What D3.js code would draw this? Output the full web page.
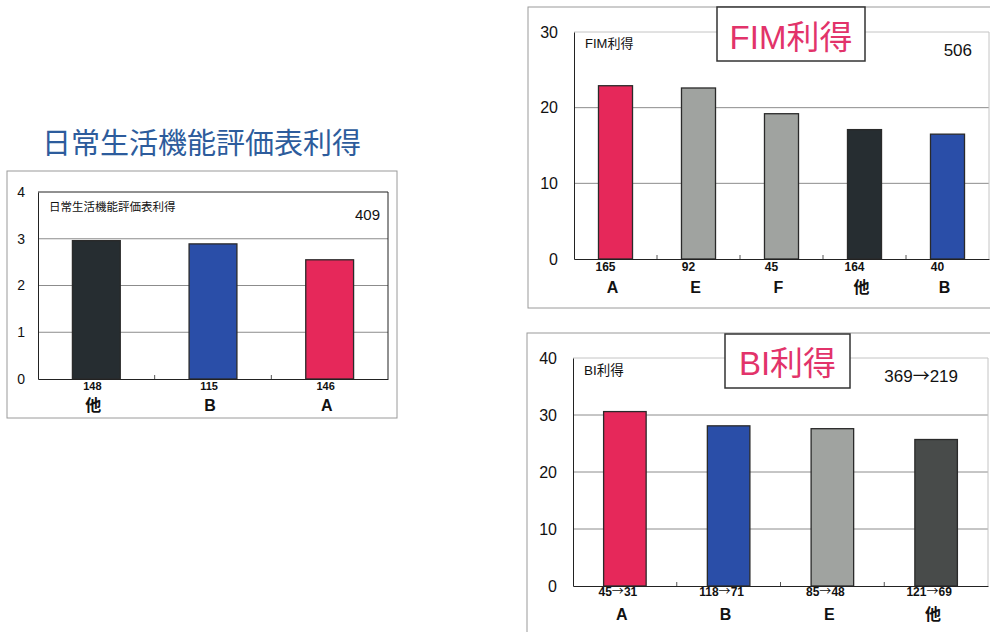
<!DOCTYPE html>
<html>
<head>
<meta charset="utf-8">
<script src="https://cdn.jsdelivr.net/npm/d3@7"></script>
<style>
  body { margin: 0; background: #fff; }
  svg { display: block; }
  text { font-family: "Liberation Sans", "Noto Sans CJK JP", sans-serif; fill: #111; }
</style>
</head>
<body>
<div id="chart"></div>
<script>
// 日常生活機能評価表利得
var adlCats = ["他", "B", "A"];
var adlVals = [2.96, 2.89, 2.55];
var adlN = ["148", "115", "146"];
var adlTicks = [0, 1, 2, 3, 4];

// FIM利得
var fimCats = ["A", "E", "F", "他", "B"];
var fimVals = [22.9, 22.6, 19.2, 17.1, 16.5];
var fimN = ["165", "92", "45", "164", "40"];
var fimTicks = [0, 10, 20, 30];

// BI利得
var biCats = ["A", "B", "E", "他"];
var biVals = [30.6, 28.1, 27.6, 25.7];
var biN = ["45→31", "118→71", "85→48", "121→69"];
var biTicks = [0, 10, 20, 30, 40];

var colors = {"A": "#e6285a", "B": "#2a4ea8", "E": "#a0a3a0", "F": "#a0a3a0", "他": "#262d31"};

var svg = d3.select("#chart").append("svg")
  .attr("width", 990)
  .attr("height", 632);

// put the arrow in a CJK font so it looks like the original
function arrowText(sel, s) {
  var parts = String(s).split("→");
  parts.forEach(function(p, i){
    if (i > 0) sel.append("tspan").style("font-family", "'Noto Sans CJK JP'").style("font-weight", "normal").text("→");
    sel.append("tspan").text(p);
  });
}

function barChart(o) {
  var g = svg.append("g");

  // outer frame
  g.append("rect")
    .attr("x", o.frame[0]).attr("y", o.frame[1])
    .attr("width", o.frame[2]).attr("height", o.frame[3])
    .attr("fill", "#fff").attr("stroke", "#9a9a9a").attr("stroke-width", 1);

  var x = d3.scaleBand().domain(o.cats).range([o.left, o.right]).paddingInner(0.59).paddingOuter(0.295);
  var band = d3.scaleBand().domain(o.cats).range([o.left, o.right]);
  var y = d3.scaleLinear().domain([0, d3.max(o.ticks)]).range([o.bottom, o.top]);

  // gridlines
  g.selectAll(".grid").data(o.ticks.slice(1, -1))
    .enter().append("line")
    .attr("x1", o.left).attr("x2", o.right)
    .attr("y1", function(d){ return y(d); }).attr("y2", function(d){ return y(d); })
    .attr("stroke", "#8c8c8c").attr("stroke-width", 1);

  // plot border
  g.append("line").attr("x1", o.left).attr("x2", o.right).attr("y1", o.top).attr("y2", o.top)
    .attr("stroke", o.borderColor).attr("stroke-width", 1);
  g.append("line").attr("x1", o.right).attr("x2", o.right).attr("y1", o.top).attr("y2", o.bottom)
    .attr("stroke", o.borderColor).attr("stroke-width", 1);

  // bars
  g.selectAll(".bar").data(o.vals)
    .enter().append("rect")
    .attr("x", function(d, i){ return x(o.cats[i]); })
    .attr("width", x.bandwidth())
    .attr("y", function(d){ return y(d); })
    .attr("height", function(d){ return y(0) - y(d); })
    .attr("fill", function(d, i){ return (o.colors && o.colors[i]) || colors[o.cats[i]]; })
    .attr("stroke", "#2a2a2a").attr("stroke-width", 1.3);

  // axes
  var ya = g.append("g").attr("transform", "translate(" + o.left + ",0)")
    .call(d3.axisLeft(y).tickValues(o.ticks).tickSize(0).tickPadding(o.tickPad).tickFormat(d3.format("d")));
  ya.select(".domain").attr("stroke", "#222");
  ya.selectAll("text").attr("font-size", o.tickFont).attr("fill", "#111")
    .style("font-family", "'Liberation Sans', sans-serif");

  var xa = g.append("g").attr("transform", "translate(0," + o.bottom + ")")
    .call(d3.axisBottom(band).tickSize(0).tickFormat(""));
  xa.select(".domain").attr("stroke", "#222");
  g.selectAll(".minor").data(o.cats.slice(1))
    .enter().append("line")
    .attr("x1", function(d){ return band(d); }).attr("x2", function(d){ return band(d); })
    .attr("y1", o.bottom - 4).attr("y2", o.bottom)
    .attr("stroke", "#555");

  // count labels
  g.selectAll(".n").data(o.n)
    .enter().append("text")
    .attr("x", function(d, i){ return band(o.cats[i]) + band.bandwidth() / 2 + o.nOffset; })
    .attr("y", o.bottom + o.nDy)
    .attr("text-anchor", "middle")
    .attr("font-size", o.nFont).attr("font-weight", "bold")
    .each(function(d){ arrowText(d3.select(this), d); });

  // category labels
  g.selectAll(".cat").data(o.cats)
    .enter().append("text")
    .attr("x", function(d){ return band(d) + band.bandwidth() / 2 - 3; })
    .attr("y", o.bottom + o.catDy)
    .attr("text-anchor", "middle")
    .attr("font-size", o.catFont).attr("font-weight", "bold")
    .text(function(d){ return d; });

  // inner label and total
  g.append("text").attr("x", o.left + 11).attr("y", o.top + o.labelDy)
    .attr("font-size", o.labelFont).text(o.label);
  g.append("text").attr("x", o.totalX).attr("y", o.top + o.totalDy)
    .attr("text-anchor", "end").attr("font-size", o.totalFont)
    .call(arrowText, o.total);

  // title box
  if (o.box) {
    g.append("rect").attr("x", o.box[0]).attr("y", o.box[1])
      .attr("width", o.box[2]).attr("height", o.box[3])
      .attr("fill", "#fff").attr("stroke", "#333").attr("stroke-width", 1.5);
    g.append("text").attr("x", o.box[0] + o.box[2] / 2).attr("y", o.box[1] + o.boxDy)
      .attr("text-anchor", "middle").attr("font-size", 33)
      .style("fill", "#e2336a").text(o.label);
  }
}

// left title
svg.append("text").attr("x", 42).attr("y", 154)
  .attr("font-size", 29).style("fill", "#2d5c9c")
  .text("日常生活機能評価表利得");

barChart({
  frame: [7, 171, 390, 247],
  cats: adlCats, vals: adlVals, n: adlN, ticks: adlTicks,
  left: 38, right: 388, top: 192, bottom: 379,
  borderColor: "#222", tickPad: 13, tickFont: 14,
  nOffset: -4, nDy: 11, nFont: 11, catDy: 32, catFont: 16,
  label: "日常生活機能評価表利得", labelDy: 19, labelFont: 11.5,
  total: "409", totalX: 380, totalDy: 28, totalFont: 15
});

barChart({
  frame: [528, 7, 480, 301],
  cats: fimCats, vals: fimVals, n: fimN, ticks: fimTicks,
  left: 574, right: 989, top: 32, bottom: 259,
  borderColor: "#c4c4c4", tickPad: 16, tickFont: 16,
  nOffset: -10, nDy: 12, nFont: 12, catDy: 34, catFont: 16,
  label: "FIM利得", labelDy: 16, labelFont: 13,
  total: "506", totalX: 972, totalDy: 24, totalFont: 17,
  box: [717, 7, 148, 54], boxDy: 42
});

barChart({
  frame: [527, 333, 480, 310],
  cats: biCats, vals: biVals, n: biN, ticks: biTicks,
  left: 573, right: 988, top: 358, bottom: 586,
  borderColor: "#c4c4c4", tickPad: 16, tickFont: 16,
  colors: [null, null, null, "#484b4a"],
  nOffset: -7, nDy: 10, nFont: 12, catDy: 34, catFont: 16,
  label: "BI利得", labelDy: 17, labelFont: 13.5,
  total: "369→219", totalX: 958, totalDy: 24, totalFont: 17,
  box: [725, 334, 125, 54], boxDy: 41
});
</script>
</body>
</html>
